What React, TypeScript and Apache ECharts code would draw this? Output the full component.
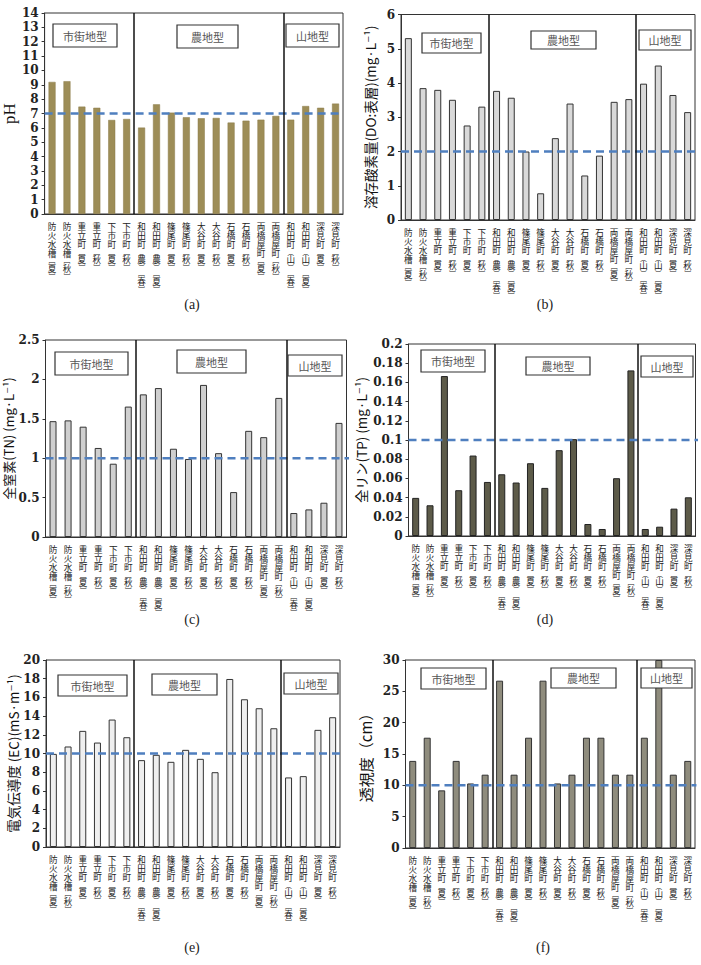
import { useEffect, useRef } from "react";
import * as echarts from "echarts";

// Sampling sites (site name, land-use subtype and season)
const sites = [
  "防火水槽[夏]", "防火水槽[秋]", "重立町[夏]", "重立町[秋]", "下市町[夏]", "下市町[秋]",
  "和田町(農)[春]", "和田町(農)[夏]", "篠尾町[夏]", "篠尾町[秋]", "大谷町[夏]", "大谷町[秋]",
  "石橋町[夏]", "石橋町[秋]", "両橋屋町[夏]", "両橋屋町[秋]",
  "和田町(山)[春]", "和田町(山)[夏]", "深見町[夏]", "深見町[秋]",
];

// Land-use zones and the site index at which each later zone begins
const zoneNames = ["市街地型", "農地型", "山地型"];
const zoneStarts = [6, 16];

// Measured values per site
const phValues = [9.2, 9.25, 7.48, 7.4, 6.55, 6.62, 6.02, 7.64, 7.06, 6.74, 6.67, 6.69, 6.37, 6.5, 6.57, 6.83, 6.57, 7.52, 7.4, 7.69];
const doValues = [5.31, 3.85, 3.8, 3.51, 2.76, 3.31, 3.77, 3.57, 2.0, 0.78, 2.39, 3.4, 1.3, 1.88, 3.45, 3.53, 3.98, 4.51, 3.65, 3.15];
const tnValues = [1.47, 1.48, 1.4, 1.13, 0.93, 1.655, 1.81, 1.89, 1.12, 0.99, 1.93, 1.064, 0.57, 1.347, 1.267, 1.765, 0.304, 0.35, 0.435, 1.448];
const tpValues = [0.0397, 0.032, 0.1666, 0.0477, 0.0838, 0.0563, 0.0643, 0.0557, 0.0758, 0.0501, 0.0894, 0.1009, 0.0125, 0.0073, 0.0602, 0.1725, 0.0073, 0.0097, 0.0285, 0.0403];
const ecValues = [9.96, 10.75, 12.42, 11.17, 13.63, 11.74, 9.29, 9.86, 9.11, 10.39, 9.43, 8.0, 17.97, 15.8, 14.84, 12.7, 7.44, 7.58, 12.53, 13.88];
const clarityValues = [13.9, 17.6, 9.2, 13.9, 10.3, 11.7, 26.7, 11.7, 17.6, 26.7, 10.3, 11.7, 17.6, 17.6, 11.7, 11.7, 17.6, 30, 11.7, 13.9];

// Reference (standard) levels drawn as dashed lines
const phStandard = 7;
const doStandard = 2;
const tnStandard = 1;
const tpStandard = 0.1;
const ecStandard = 10;
const clarityStandard = 10;

type Panel = {
  values: number[];
  standard: number;
  max: number;
  interval: number;
  axisName: string;
  nameFont: string;
  nameSize: number;
  nameGap: number;
  grid: { left: number; top: number; width: number; height: number };
  fill: string;
  stroke: string;
  strokeWidth: number;
  boxes: number[][];
  caption: string;
  captionPos: number[];
  tail: number;
};

const CJK = '"Noto Sans CJK JP", "DejaVu Sans", sans-serif';

const panels: Panel[] = [
  {
    values: phValues, standard: phStandard, max: 14, interval: 1,
    axisName: "pH", nameFont: '"Liberation Serif", serif', nameSize: 17, nameGap: 22,
    grid: { left: 44, top: 13, width: 299, height: 201 },
    fill: "#9d8d57", stroke: "#8a7b48", strokeWidth: 0.5,
    boxes: [[53, 24, 64, 23], [177, 25, 61, 23], [286, 24, 53, 23]],
    caption: "(a)", captionPos: [192, 304], tail: 0,
  },
  {
    values: doValues, standard: doStandard, max: 6, interval: 1,
    axisName: "溶存酸素量(DO:表層)(mg·L⁻¹)", nameFont: CJK, nameSize: 13.5, nameGap: 24,
    grid: { left: 401, top: 14.5, width: 294, height: 205.5 },
    fill: "#d9d9d9", stroke: "#333", strokeWidth: 1,
    boxes: [[422, 33, 59, 20], [531, 31, 65, 18], [639, 30, 52, 20]],
    caption: "(b)", captionPos: [545, 304], tail: 0.3,
  },
  {
    values: tnValues, standard: tnStandard, max: 2.5, interval: 0.5,
    axisName: "全窒素(TN) (mg·L⁻¹)", nameFont: CJK, nameSize: 13, nameGap: 21,
    grid: { left: 45.5, top: 340, width: 301, height: 197 },
    fill: "#cfcfcf", stroke: "#333", strokeWidth: 1,
    boxes: [[55, 352, 73, 23], [177, 350, 69, 23], [288, 355, 54, 21]],
    caption: "(c)", captionPos: [192, 619], tail: 0.25,
  },
  {
    values: tpValues, standard: tpStandard, max: 0.2, interval: 0.02,
    axisName: "全リン(TP) (mg·L⁻¹)", nameFont: CJK, nameSize: 13.5, nameGap: 41,
    grid: { left: 408.5, top: 344, width: 287, height: 192 },
    fill: "#5d5b49", stroke: "#222", strokeWidth: 1,
    boxes: [[421, 350, 64, 22], [526, 357, 64, 18], [641, 356, 52, 21]],
    caption: "(d)", captionPos: [545, 619], tail: 0.3,
  },
  {
    values: ecValues, standard: ecStandard, max: 20, interval: 2,
    axisName: "電気伝導度 (EC)(mS·m⁻¹)", nameFont: CJK, nameSize: 13.5, nameGap: 25,
    grid: { left: 46, top: 660, width: 294, height: 187 },
    fill: "#efefef", stroke: "#333", strokeWidth: 1,
    boxes: [[58, 675, 69, 21], [152, 674, 65, 21], [284, 673, 54, 21]],
    caption: "(e)", captionPos: [192, 947], tail: 0,
  },
  {
    values: clarityValues, standard: clarityStandard, max: 30, interval: 5,
    axisName: "透視度（cm）", nameFont: CJK, nameSize: 15, nameGap: 33,
    grid: { left: 405.5, top: 660, width: 289.5, height: 188 },
    fill: "#8f8c7d", stroke: "#333", strokeWidth: 1,
    boxes: [[421, 668, 65, 21], [551, 668, 65, 20], [641, 668, 51, 20]],
    caption: "(f)", captionPos: [543, 947], tail: 0.1,
  },
];

// Stack a site label vertically, using vertical forms for brackets
function verticalLabel(s: string): string {
  const out: string[] = [];
  for (const ch of s) {
    if (ch === "[") out.push("{k|﹇}");
    else if (ch === "]") out.push("{k|﹈}");
    else if (ch === "(") out.push("{k|︵}");
    else if (ch === ")") out.push("{k|︶}");
    else out.push("{c|" + ch + "}");
  }
  return out.join("\n");
}

function buildOption() {
  const grid = panels.map((p) => ({
    ...p.grid,
    show: true,
    borderColor: "#333",
    borderWidth: 1,
    backgroundColor: "transparent",
  }));

  const xAxis = panels.flatMap((_, i) => [
    {
      type: "category",
      gridIndex: i,
      data: sites,
      axisLine: { show: true, lineStyle: { color: "#333" } },
      axisTick: { show: false },
      axisLabel: {
        interval: 0,
        margin: 8,
        fontFamily: CJK,
        fontSize: 8.6,
        lineHeight: 8.8,
        color: "#222",
        verticalAlign: "top",
        formatter: (v: string) => verticalLabel(v),
        rich: {
          c: { fontFamily: CJK, fontSize: 8.6, lineHeight: 8.8, color: "#222" },
          k: { fontFamily: CJK, fontSize: 6.5, lineHeight: 6.5, color: "#222" },
        },
      },
    },
    {
      type: "value",
      gridIndex: i,
      min: 0,
      max: sites.length,
      show: false,
    },
  ]);

  const yAxis = panels.map((p, i) => ({
    type: "value",
    gridIndex: i,
    min: 0,
    max: p.max,
    interval: p.interval,
    splitLine: { show: false },
    axisLine: { show: true, lineStyle: { color: "#333" } },
    axisTick: { show: true, length: 3, lineStyle: { color: "#333" } },
    axisLabel: {
      fontFamily: '"DejaVu Serif", serif',
      fontWeight: "bold",
      fontSize: 12,
      color: "#222",
      margin: 6,
    },
    name: p.axisName,
    nameLocation: "middle",
    nameRotate: 90,
    nameGap: p.nameGap,
    nameTextStyle: {
      fontFamily: p.nameFont,
      fontSize: p.nameSize,
      color: "#111",
    },
  }));

  const series = panels.flatMap((p, i) => [
    {
      type: "bar",
      xAxisIndex: 2 * i,
      yAxisIndex: i,
      data: p.values,
      barWidth: 7,
      itemStyle: { color: p.fill, borderColor: p.stroke, borderWidth: p.strokeWidth },
      z: 2,
    },
    {
      type: "line",
      xAxisIndex: 2 * i + 1,
      yAxisIndex: i,
      data: [[0, p.standard], [sites.length + p.tail, p.standard]],
      symbol: "none",
      clip: false,
      lineStyle: { color: "#4f7fbf", width: 2.5, type: [8, 5] },
      z: 4,
      markLine: {
        silent: true,
        symbol: "none",
        label: { show: false },
        lineStyle: { color: "#111", width: 1.5, type: "solid" },
        data: zoneStarts.map((s) => ({ xAxis: s })),
      },
    },
  ]);

  const graphic: any[] = [];
  panels.forEach((p) => {
    p.boxes.forEach((b, j) => {
      graphic.push({
        type: "rect",
        shape: { x: b[0], y: b[1], width: b[2], height: b[3] },
        style: { fill: "#fff", stroke: "#333", lineWidth: 1.2 },
        z: 10,
      });
      graphic.push({
        type: "text",
        x: b[0] + b[2] / 2,
        y: b[1] + b[3] / 2,
        style: {
          text: zoneNames[j],
          fill: "#555",
          fontFamily: CJK,
          fontSize: 11,
          align: "center",
          verticalAlign: "middle",
        },
        z: 11,
      });
    });
    graphic.push({
      type: "text",
      x: p.captionPos[0],
      y: p.captionPos[1],
      style: {
        text: p.caption,
        fill: "#222",
        fontFamily: '"Liberation Serif", serif',
        fontSize: 14,
        align: "center",
        verticalAlign: "middle",
      },
    });
  });

  return {
    animation: false,
    backgroundColor: "#fff",
    grid,
    xAxis,
    yAxis,
    series,
    graphic,
  };
}

export default function App() {
  const ref = useRef<HTMLDivElement>(null);

  useEffect(() => {
    if (!ref.current) return;
    const chart = echarts.init(ref.current, undefined, { renderer: "svg" });
    chart.setOption(buildOption() as any);
    return () => chart.dispose();
  }, []);

  return (
    <div
      ref={ref}
      style={{ position: "absolute", left: 0, top: 0, width: 701, height: 965, background: "#fff" }}
    />
  );
}
